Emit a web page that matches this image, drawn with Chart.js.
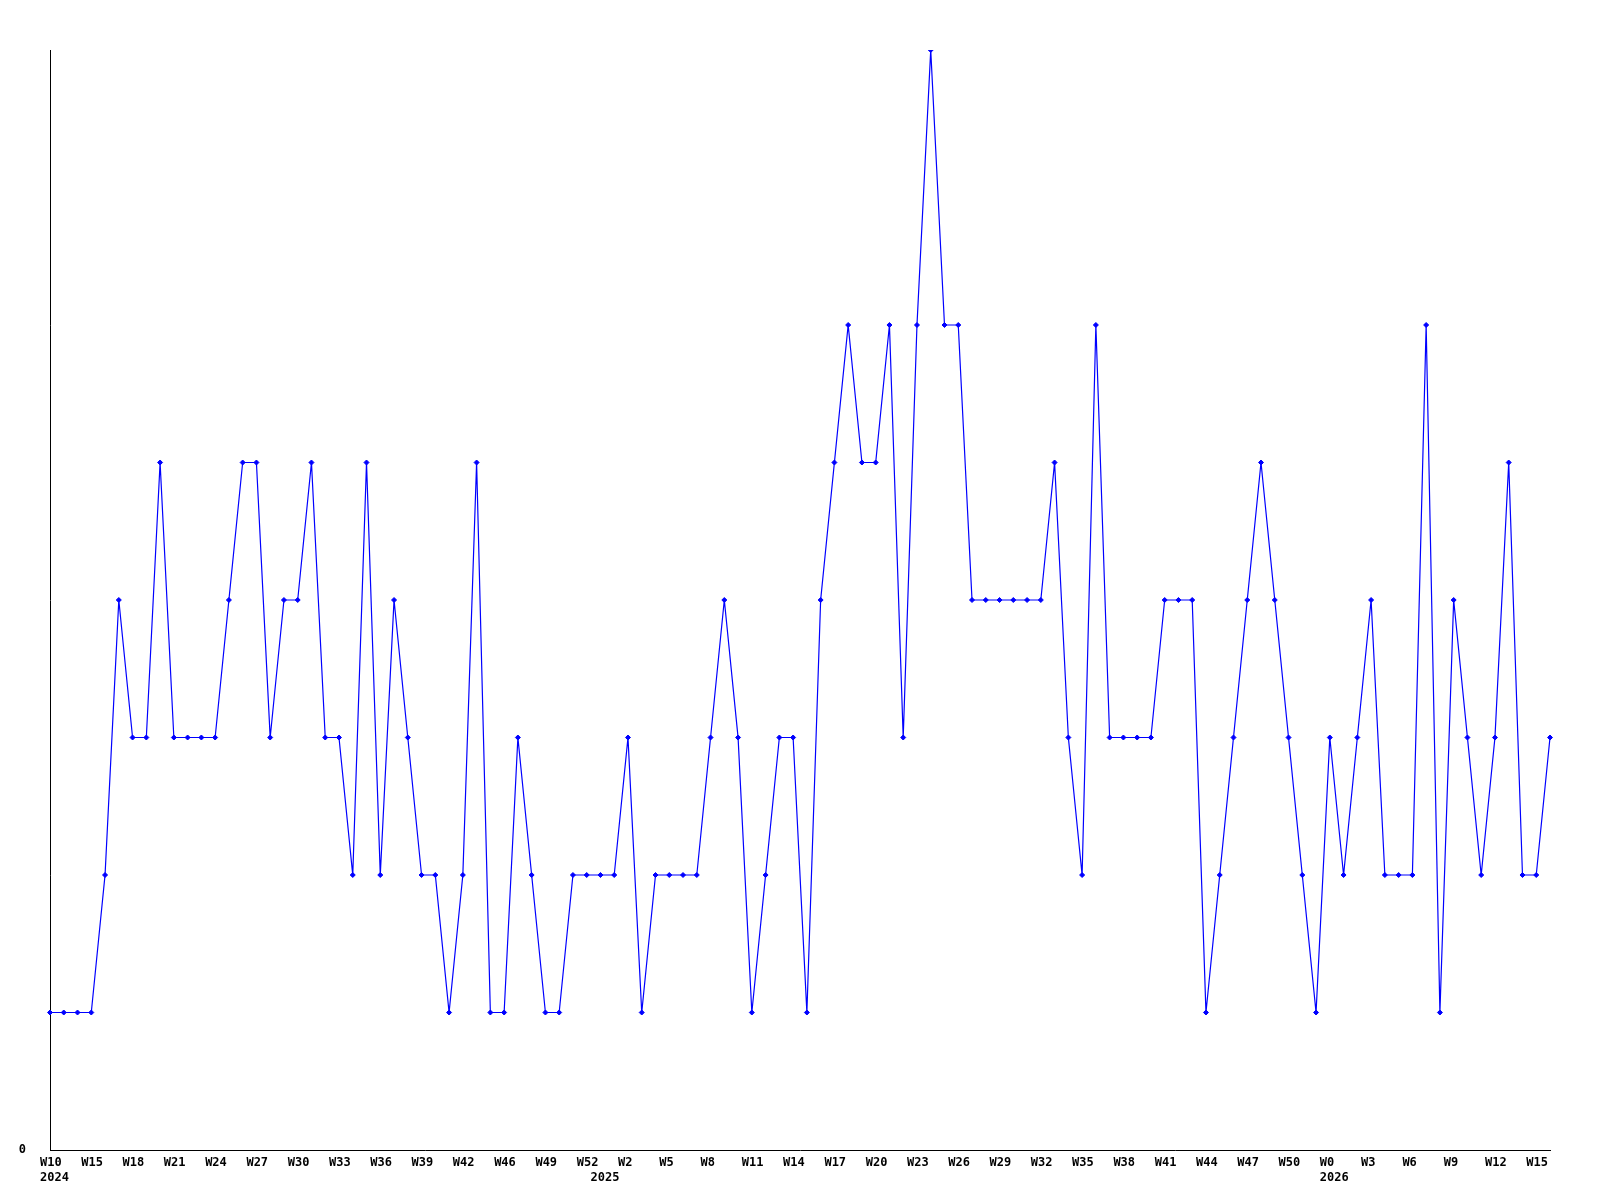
<!DOCTYPE html>
<html>
<head>
<meta charset="utf-8">
<title>Weekly count</title>
<script src="https://cdn.jsdelivr.net/npm/chart.js@4.4.1/dist/chart.umd.min.js"></script>
<style>
  body { margin: 0; background: #fff; }
</style>
</head>
<body>
<canvas id="weekChart" width="1600" height="1200"></canvas>
<script>
// week tick labels, one every third point
const weekTicks = ['W10', 'W15', 'W18', 'W21', 'W24', 'W27', 'W30', 'W33', 'W36', 'W39',
    'W42', 'W46', 'W49', 'W52', 'W2', 'W5', 'W8', 'W11', 'W14', 'W17',
    'W20', 'W23', 'W26', 'W29', 'W32', 'W35', 'W38', 'W41', 'W44', 'W47',
    'W50', 'W0', 'W3', 'W6', 'W9', 'W12', 'W15'];
const yearTicks = ['2024', '2025', '2026'];
const yearStarts = [0, 40, 93]; // point index where each year label sits

// one value per week
const values = [1, 1, 1, 1, 2, 4, 3, 3, 5, 3,
    3, 3, 3, 4, 5, 5, 3, 4, 4, 5,
    3, 3, 2, 5, 2, 4, 3, 2, 2, 1,
    2, 5, 1, 1, 3, 2, 1, 1, 2, 2,
    2, 2, 3, 1, 2, 2, 2, 2, 3, 4,
    3, 1, 2, 3, 3, 1, 4, 5, 6, 5,
    5, 6, 3, 6, 8, 6, 6, 4, 4, 4,
    4, 4, 4, 5, 3, 2, 6, 3, 3, 3,
    3, 4, 4, 4, 1, 2, 3, 4, 5, 4,
    3, 2, 1, 3, 2, 3, 4, 2, 2, 2,
    6, 1, 4, 3, 2, 3, 5, 2, 2, 3];

const labels = values.map((v, i) => {
    const wk = i % 3 === 0 && weekTicks[i / 3] ? weekTicks[i / 3] : '';
    const y = yearStarts.indexOf(i);
    return [wk, y >= 0 ? yearTicks[y] : ''];
});

const tickFont = { family: '"DejaVu Sans Mono", monospace', size: 12, weight: 'bold', lineHeight: '15px' };

const ctx = document.getElementById('weekChart').getContext('2d');
new Chart(ctx, {
    type: 'line',
    data: {
        labels: labels,
        datasets: [{
            data: values,
            borderColor: '#0000ff',
            borderWidth: 1.2,
            backgroundColor: '#0000ff',
            pointStyle: 'rectRot',
            pointRadius: 2.5,
            pointBorderWidth: 1,
            pointBorderColor: '#0000ff',
            pointBackgroundColor: '#0000ff',
            tension: 0,
            fill: false
        }]
    },
    options: {
        responsive: false,
        animation: false,
        layout: { padding: { top: 50, right: 50, left: 0, bottom: 0 } },
        plugins: {
            legend: { display: false },
            tooltip: { enabled: false }
        },
        scales: {
            x: {
                offset: false,
                grid: { display: false, drawTicks: false },
                border: { display: true, color: '#000', width: 1 },
                ticks: {
                    autoSkip: false,
                    maxRotation: 0,
                    minRotation: 0,
                    align: 'start',
                    labelOffset: -10,
                    padding: 5,
                    color: '#000',
                    font: tickFont
                },
                afterFit: s => { s.height = 50; }
            },
            y: {
                min: 0,
                max: 8,
                grid: { display: false, drawTicks: false },
                border: { display: true, color: '#000', width: 1 },
                ticks: {
                    stepSize: 8,
                    padding: 24,
                    color: '#000',
                    font: tickFont,
                    callback: v => v === 0 ? '0' : ''
                },
                afterFit: s => { s.width = 50; }
            }
        }
    }
});
</script>
</body>
</html>
